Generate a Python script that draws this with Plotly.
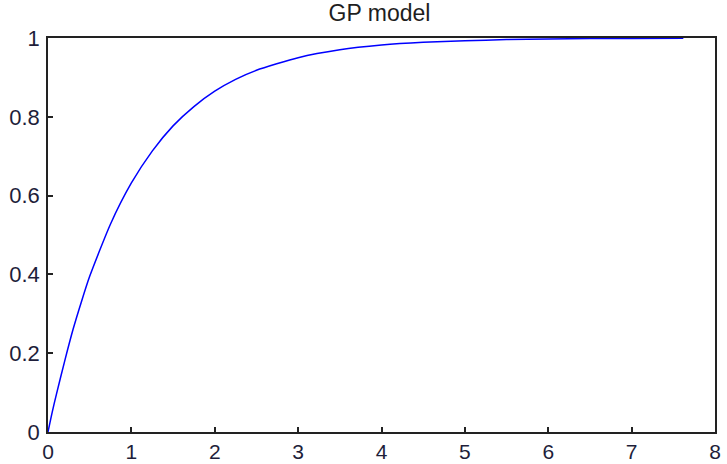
import plotly.graph_objects as go

# values
x_vals = [0, 0.05, 0.1, 0.2, 0.3, 0.4, 0.5, 0.75, 1.0, 1.25, 1.5, 1.75, 2.0, 2.25, 2.5, 3.0,
          3.5, 4.0, 4.5, 5.0, 5.5, 6.0, 6.5, 7.0, 7.62]
y_vals = [0, 0.05, 0.095, 0.18, 0.26, 0.33, 0.395, 0.528, 0.632, 0.713, 0.777, 0.826, 0.865,
          0.895, 0.918, 0.950, 0.970, 0.982, 0.989, 0.993, 0.996, 0.9975, 0.9985, 0.999, 0.9995]

x_ticks = [0, 1, 2, 3, 4, 5, 6, 7, 8]
y_ticks = [0, 0.2, 0.4, 0.6, 0.8, 1]
y_tick_labels = ["0", "0.2", "0.4", "0.6", "0.8", "1"]
title_text = "GP model"

fig = go.Figure()
fig.add_trace(go.Scatter(x=x_vals, y=y_vals, mode="lines",
                         line=dict(color="#0000ff", width=1.5, shape="spline", smoothing=0.6),
                         showlegend=False))

axis_common = dict(showline=True, linecolor="#222222", linewidth=1.5, mirror=True,
                   ticks="inside", ticklen=5, tickwidth=1.5, tickcolor="#222222",
                   showgrid=False, zeroline=False, layer="below traces", automargin=False)
tick_font = dict(family="Liberation Sans, Arial", size=21, color="#1e1e3a")

fig.update_layout(
    width=727, height=464,
    margin=dict(l=48, r=12, t=38, b=32),
    paper_bgcolor="white", plot_bgcolor="white",
    title=dict(text=title_text, x=0.522, xanchor="center", y=0.972, yanchor="middle",
               font=dict(family="Liberation Sans, Arial", size=23, color="#1e1e1e")),
    xaxis=dict(range=[0, 8], tickvals=x_ticks, ticklabelstandoff=0, tickfont=tick_font,
               **axis_common),
    yaxis=dict(range=[0, 1], tickvals=y_ticks, ticktext=y_tick_labels, ticklabelstandoff=2,
               tickfont=dict(tick_font, size=22), **axis_common),
)

fig.write_html("out.html", config={"displayModeBar": False},
               post_script="document.body.style.margin='0';")
